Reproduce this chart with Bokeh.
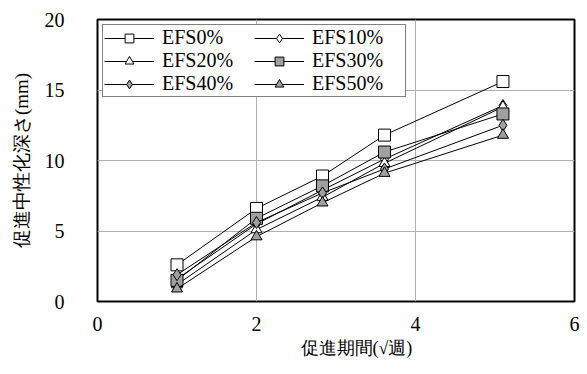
from bokeh.plotting import figure
from bokeh.models import Legend, LegendItem, FixedTicker, Title
from bokeh.embed import file_html
from bokeh.resources import INLINE

weeks_sqrt = [1.0, 2.0, 2.83, 3.61, 5.10]
efs0 = [2.6, 6.6, 8.9, 11.8, 15.6]
efs10 = [1.6, 5.5, 7.9, 10.1, 13.9]
efs20 = [1.2, 5.1, 7.4, 9.8, 13.8]
efs30 = [1.5, 5.9, 8.2, 10.6, 13.3]
efs40 = [1.9, 5.6, 7.7, 9.4, 12.5]
efs50 = [0.9, 4.6, 7.0, 9.1, 11.8]

names = ["EFS0%", "EFS10%", "EFS20%", "EFS30%", "EFS40%", "EFS50%"]
series = [efs0, efs10, efs20, efs30, efs40, efs50]
markers = ["square", "diamond", "triangle", "square", "diamond", "triangle"]
fills = ["white", "white", "white", "#a0a0a0", "#a0a0a0", "#a0a0a0"]
sizes = [12, 12, 11, 12, 12, 11]

x_title = "促進期間(√週)"
y_title = "促進中性化深さ(mm)"

FONT = "Liberation Serif"

p = figure(width=587, height=374, x_range=(0, 6), y_range=(0, 20),
           output_backend="svg", toolbar_location=None,
           min_border_left=97, min_border_right=13, min_border_top=19, min_border_bottom=73)

items = []
for nm, ys, mk, fc, sz in zip(names, series, markers, fills, sizes):
    r1 = p.line(weeks_sqrt, ys, line_color="black", line_width=1)
    r2 = p.scatter(weeks_sqrt, ys, marker=mk, size=sz, fill_color=fc,
                   line_color="black", line_width=1)
    items.append(LegendItem(label=nm, renderers=[r1, r2]))

ordered = [items[i] for i in (0, 2, 4, 1, 3, 5)]

legend = Legend(items=ordered, location="top_left", ncols=2,
                label_text_font=FONT, label_text_font_size="20px",
                label_text_color="black",
                glyph_width=50, glyph_height=22, label_height=20,
                label_width=92,
                spacing=-2, padding=1, margin=5,
                label_standoff=8,
                border_line_color="black", border_line_width=1,
                background_fill_alpha=1)
p.add_layout(legend, "center")

p.xaxis.ticker = FixedTicker(ticks=[0, 2, 4, 6])
p.yaxis.ticker = FixedTicker(ticks=[0, 5, 10, 15, 20])
for ax in (p.xaxis, p.yaxis):
    ax.axis_line_color = None
    ax.major_tick_line_color = None
    ax.minor_tick_line_color = None
    ax.major_label_text_font = FONT
    ax.major_label_text_font_size = "20px"
    ax.major_label_text_color = "black"
    ax.axis_label_text_font = FONT
    ax.axis_label_text_font_style = "normal"
    ax.axis_label_text_color = "black"

p.yaxis.major_label_standoff = 27
p.xaxis.major_label_standoff = 9
p.yaxis.axis_label = y_title
p.yaxis.axis_label_text_font_size = "19px"
p.yaxis.axis_label_standoff = 10

p.add_layout(Title(text=x_title, align="left", offset=203,
                   text_font=FONT, text_font_size="18px",
                   text_font_style="normal", text_color="black",
                   standoff=4), "below")

p.grid.grid_line_color = "#b0b0b0"
p.grid.grid_line_width = 1
p.outline_line_color = "black"
p.outline_line_width = 2

open("out.html", "w").write(file_html(p, INLINE))
